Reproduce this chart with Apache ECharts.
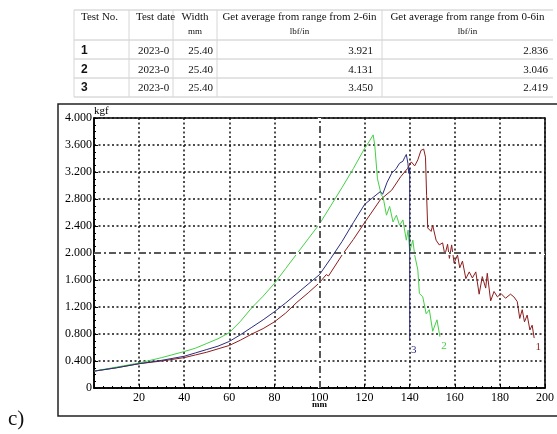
<!DOCTYPE html>
<html>
<head>
<meta charset="utf-8">
<script src="https://cdn.jsdelivr.net/npm/echarts@6/dist/echarts.min.js"></script>
<style>
  html, body { margin: 0; padding: 0; background: #fff; }
  #chart { width: 557px; height: 434px; }
</style>
</head>
<body>
<div id="chart"></div>
<script>
// table contents
const headTop = ["Test No.", "Test date", "Width", "Get average from range from 2-6in", "Get average from range from 0-6in"];
const headUnit = ["", "", "mm", "lbf/in", "lbf/in"];
const testNo = ["1", "2", "3"];
const testDate = ["2023-07", "2023-07", "2023-07"];
const widthMm = ["25.40", "25.40", "25.40"];
const avg2to6 = ["3.921", "4.131", "3.450"];
const avg0to6 = ["2.836", "3.046", "2.419"];

// curves, [mm, kgf]
const test1 = [
  [0, 0.25], [10, 0.30], [20, 0.36], [30, 0.40], [40, 0.45], [45, 0.49], [50, 0.53], [55, 0.58],
  [60, 0.63], [65, 0.71], [70, 0.80], [75, 0.88], [80, 0.98], [85, 1.11], [90, 1.27], [95, 1.41],
  [100, 1.56], [103, 1.68], [104, 1.66], [110, 1.97], [115, 2.2], [120, 2.45], [127, 2.79], [132, 2.93],
  [136, 3.13], [139, 3.25], [140.7, 3.35], [142.2, 3.29], [143.6, 3.38], [145, 3.52], [146.2, 3.54],
  [147, 3.42], [147.5, 2.85], [148, 2.37], [149.5, 2.32], [150.2, 2.41], [151.7, 2.19], [153.1, 2.12],
  [154.6, 2.15], [155.6, 1.97], [156.8, 2.13], [157.6, 1.92], [158.6, 2.12], [159.7, 1.85],
  [161.2, 1.97], [162.2, 1.78], [163.4, 1.88], [164.9, 1.62], [166.4, 1.72], [167.8, 1.63],
  [169.3, 1.72], [170.8, 1.39], [172.2, 1.65], [173.7, 1.48], [174.4, 1.70], [175.9, 1.29],
  [177.4, 1.43], [178.9, 1.35], [180.5, 1.40], [182.5, 1.33], [184.7, 1.39], [186.2, 1.35],
  [187.7, 1.28], [188.8, 1.03], [189.9, 1.16], [190.9, 0.98], [192.1, 1.08], [193.3, 0.86],
  [194.3, 0.93], [195.2, 0.74]
];
const test2 = [
  [0, 0.25], [10, 0.31], [20, 0.37], [30, 0.45], [40, 0.54], [45, 0.59], [50, 0.66], [55, 0.73],
  [60, 0.82], [65, 0.99], [70, 1.19], [75, 1.36], [80, 1.55], [85, 1.77], [90, 1.99], [95, 2.21],
  [100, 2.43], [105, 2.70], [110, 2.97], [115, 3.25], [120, 3.55], [122, 3.65], [123.8, 3.75],
  [124.5, 3.60], [125.7, 3.10], [127.4, 2.86], [128.2, 2.83], [129.7, 2.56], [131.1, 2.69],
  [132.6, 2.46], [134.1, 2.56], [135.5, 2.41], [137, 2.49], [138.5, 2.19], [139.3, 2.34],
  [140, 2.02], [141.4, 2.19], [142.2, 1.97], [143.6, 1.75], [144.3, 1.40], [144.7, 1.42],
  [145.8, 1.35], [147.3, 1.10], [148.7, 1.16], [150.2, 0.84], [152.1, 1.01], [153.4, 0.76]
];
const test3 = [
  [0, 0.25], [10, 0.30], [20, 0.36], [30, 0.41], [40, 0.47], [45, 0.52], [50, 0.57], [55, 0.62],
  [60, 0.69], [65, 0.79], [70, 0.90], [75, 1.01], [80, 1.13], [85, 1.26], [90, 1.40], [95, 1.54],
  [100, 1.68], [105, 1.92], [110, 2.17], [115, 2.45], [120, 2.72], [124, 2.83], [127, 2.91],
  [128, 2.87], [130, 3.05], [132, 3.18], [134, 3.25], [135.5, 3.33], [137, 3.36], [137.7, 3.41],
  [138.5, 3.46], [139.2, 3.33], [139.6, 3.18], [140, 3.26], [140, 0.70]
];
const curveNames = ["1", "2", "3"];
const curveColors = ["#8e1d1d", "#45d045", "#2a2d7e"];

const serif = "Liberation Serif";
const chart = echarts.init(document.getElementById("chart"));

// table drawn as graphic elements
const colX = [74, 129, 173, 217, 382, 553];
const lineY = [10, 40, 59, 78, 97];
const rowMid = [51, 70, 88];
const table = [];
lineY.forEach((y) => table.push({ type: "line", shape: { x1: colX[0], y1: y, x2: colX[5], y2: y }, style: { stroke: "#c8c8c8", lineWidth: 1 } }));
colX.slice(0, 5).forEach((x) => table.push({ type: "line", shape: { x1: x, y1: lineY[0], x2: x, y2: lineY[4] }, style: { stroke: "#d6d6d6", lineWidth: 1 } }));
const txt = (text, x, y, align, size, extra) => ({
  type: "text", x, y,
  style: Object.assign({ text, fill: "#111", font: size + "px " + serif, textAlign: align, textVerticalAlign: "middle" }, extra || {}),
});
headTop.forEach((h, i) => {
  const center = (colX[i] + colX[i + 1]) / 2;
  if (i < 2) table.push(txt(h, colX[i] + 7, 17, "left", 11));
  else table.push(txt(h, center, 17, "center", 11));
  if (headUnit[i]) table.push(txt(headUnit[i], center, 32, "center", 9));
});
rowMid.forEach((y, r) => {
  table.push(txt(testNo[r], colX[0] + 7, y, "left", 11, { fontWeight: "bold" }));
  table.push(txt(testDate[r], colX[1] + 9, y, "left", 11, { width: 35, overflow: "truncate", ellipsis: "" }));
  table.push(txt(widthMm[r], colX[3] - 4, y, "right", 11));
  table.push(txt(avg2to6[r], colX[4] - 9, y, "right", 11));
  table.push(txt(avg0to6[r], colX[5] - 5, y, "right", 11));
});

const gridDots = { color: "#151515", type: [2, 2.5], width: 1.5 };
const dashDotAt = [{ yAxis: 2 }, { xAxis: 100 }];

chart.setOption({
  animation: false,
  textStyle: { fontFamily: serif },
  graphic: [
    { type: "rect", shape: { x: 58, y: 104, width: 520, height: 312 }, style: { fill: "none", stroke: "#222", lineWidth: 1.5 }, z: 0 },
    { type: "text", x: 8, y: 409, style: { text: "c)", fill: "#111", font: "21px " + serif } },
    ...table,
  ],
  grid: { left: 94, top: 118, width: 454, height: 270, show: true, borderColor: "#000", borderWidth: 1.5, backgroundColor: "#fff" },
  xAxis: {
    type: "value", min: 0, max: 200, interval: 20,
    name: "mm", nameLocation: "middle", nameGap: 12, nameMoveOverlap: false,
    nameTextStyle: { fontFamily: serif, fontSize: 9, fontWeight: "bold", color: "#000", verticalAlign: "top" },
    axisLine: { show: true, lineStyle: { color: "#000", width: 1.5 } },
    axisTick: { show: true, inside: true, length: 4, lineStyle: { color: "#000" } },
    minorTick: { show: true, splitNumber: 5, length: 2, lineStyle: { color: "#000" } },
    axisLabel: { color: "#000", fontSize: 12, fontFamily: serif, margin: 4, formatter: (v) => (v === 0 ? "" : String(v)) },
    splitLine: { show: true, lineStyle: gridDots },
  },
  yAxis: {
    type: "value", min: 0, max: 4, interval: 0.4,
    name: "kgf", nameLocation: "end", nameGap: 7, nameMoveOverlap: false,
    nameTextStyle: { fontFamily: serif, fontSize: 11, color: "#000", align: "left", verticalAlign: "middle" },
    axisLine: { show: true, lineStyle: { color: "#000", width: 1.5 } },
    axisTick: { show: true, inside: true, length: 4, lineStyle: { color: "#000" } },
    minorTick: { show: true, splitNumber: 4, length: 2, lineStyle: { color: "#000" } },
    axisLabel: { color: "#000", fontSize: 12, fontFamily: serif, margin: 2, formatter: (v) => (v === 0 ? "0" : v.toFixed(3)) },
    splitLine: { show: true, lineStyle: gridDots },
  },
  series: [
    {
      // white underlay erases the dotted grid where the dash-dot lines go
      type: "line", data: [], z: 1, silent: true,
      markLine: {
        silent: true, symbol: ["none", "none"], label: { show: false },
        lineStyle: { color: "#fff", type: "solid", width: 3 },
        data: dashDotAt,
      },
    },
    {
      type: "line", data: [], z: 2, silent: true,
      markLine: {
        silent: true, symbol: ["none", "none"], label: { show: false },
        lineStyle: { color: "#222", type: [7, 3, 2, 3], width: 1.5 },
        data: dashDotAt,
      },
    },
    ...[test1, test2, test3].map((pts, i) => ({
      name: curveNames[i], type: "line", data: pts, z: 3 + i,
      showSymbol: false, symbol: "none",
      lineStyle: { color: curveColors[i], width: 1 },
      markPoint: {
        symbol: "circle", symbolSize: 1, itemStyle: { color: "rgba(0,0,0,0)" },
        label: { show: true, position: "inside", offset: [4, 9], formatter: curveNames[i], color: curveColors[i], fontFamily: serif, fontSize: 11 },
        data: [{ coord: pts[pts.length - 1] }],
      },
    })),
  ],
});
</script>
</body>
</html>
